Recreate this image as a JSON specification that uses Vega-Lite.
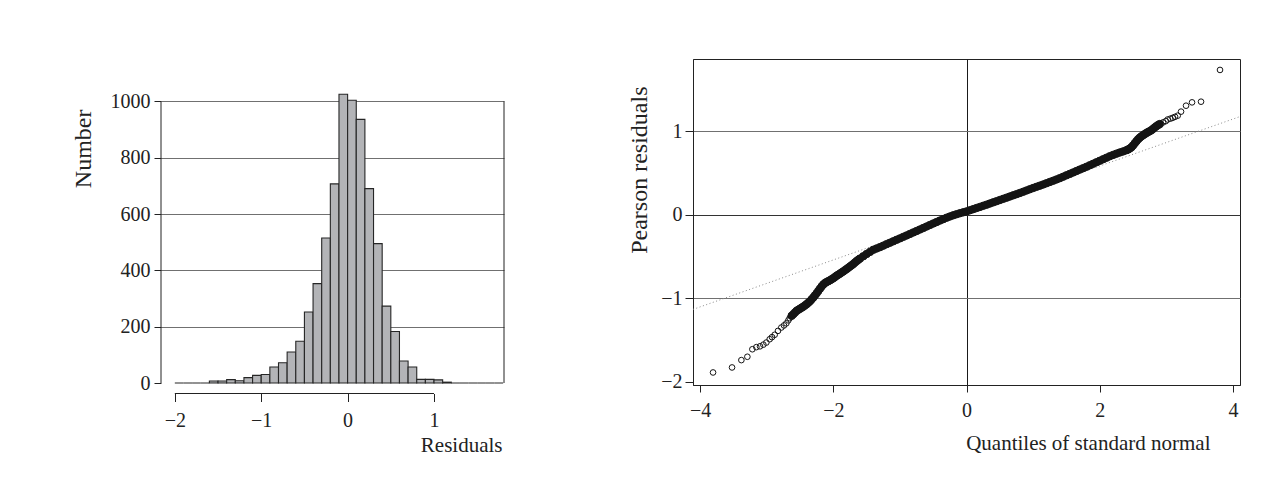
{
  "$schema": "https://vega.github.io/schema/vega-lite/v6.json",
  "padding": {"left": 71, "top": 58, "right": 5, "bottom": 5},
  "spacing": 122,
  "config": {
    "font": "Liberation Serif",
    "axis": {
      "labelFont": "Liberation Serif",
      "titleFont": "Liberation Serif",
      "labelFontSize": 20,
      "titleFontSize": 21,
      "titleFontWeight": "normal",
      "labelColor": "#222222",
      "titleColor": "#222222",
      "tickColor": "#222222",
      "domainColor": "#222222",
      "labelFlush": false,
      "labelOverlap": false,
      "format": "d"
    }
  },
  "hconcat": [
    {
      "width": 343,
      "height": 324,
      "view": {"stroke": null},
      "layer": [
        {
          "data": {"values": [
            {"start": -2.0, "end": -1.9, "count": 0},
            {"start": -1.9, "end": -1.8, "count": 0},
            {"start": -1.8, "end": -1.7, "count": 0},
            {"start": -1.7, "end": -1.6, "count": 0},
            {"start": -1.6, "end": -1.5, "count": 7},
            {"start": -1.5, "end": -1.4, "count": 7},
            {"start": -1.4, "end": -1.3, "count": 12},
            {"start": -1.3, "end": -1.2, "count": 8},
            {"start": -1.2, "end": -1.1, "count": 19},
            {"start": -1.1, "end": -1.0, "count": 27},
            {"start": -1.0, "end": -0.9, "count": 30},
            {"start": -0.9, "end": -0.8, "count": 57},
            {"start": -0.8, "end": -0.7, "count": 72},
            {"start": -0.7, "end": -0.6, "count": 110},
            {"start": -0.6, "end": -0.5, "count": 148},
            {"start": -0.5, "end": -0.4, "count": 252},
            {"start": -0.4, "end": -0.3, "count": 353},
            {"start": -0.3, "end": -0.2, "count": 515},
            {"start": -0.2, "end": -0.1, "count": 707},
            {"start": -0.1, "end": 0.0, "count": 1025},
            {"start": 0.0, "end": 0.1, "count": 1004},
            {"start": 0.1, "end": 0.2, "count": 936},
            {"start": 0.2, "end": 0.3, "count": 690},
            {"start": 0.3, "end": 0.4, "count": 495},
            {"start": 0.4, "end": 0.5, "count": 273},
            {"start": 0.5, "end": 0.6, "count": 183},
            {"start": 0.6, "end": 0.7, "count": 78},
            {"start": 0.7, "end": 0.8, "count": 57},
            {"start": 0.8, "end": 0.9, "count": 13},
            {"start": 0.9, "end": 1.0, "count": 13},
            {"start": 1.0, "end": 1.1, "count": 11},
            {"start": 1.1, "end": 1.2, "count": 3},
            {"start": 1.2, "end": 1.3, "count": 0},
            {"start": 1.3, "end": 1.4, "count": 0},
            {"start": 1.4, "end": 1.5, "count": 0},
            {"start": 1.5, "end": 1.6, "count": 0},
            {"start": 1.6, "end": 1.7, "count": 0},
            {"start": 1.7, "end": 1.8, "count": 0}
          ]},
          "mark": {"type": "bar", "fill": "#b3b4b7", "stroke": "#262626", "strokeWidth": 1.1},
          "encoding": {
            "x": {
              "field": "start",
              "type": "quantitative",
              "scale": {"domain": [-2.16, 1.81], "nice": false, "zero": false},
              "axis": {
                "values": [-2, -1, 0, 1],
                "format": "d",
                "domain": false,
                "grid": false,
                "offset": 10.5,
                "tickSize": 8,
                "labelPadding": 9,
                "title": "Residuals",
                "titleX": 341,
                "titleAlign": "right",
                "titlePadding": 4
              }
            },
            "x2": {"field": "end"},
            "y": {
              "field": "count",
              "type": "quantitative",
              "scale": {"domain": [0, 1150.4], "nice": false},
              "axis": {
                "values": [0, 200, 400, 600, 800, 1000],
                "format": "d",
                "domain": false,
                "tickSize": 7,
                "labelPadding": 4,
                "grid": true,
                "gridColor": {"condition": {"test": "datum.value === 0", "value": "transparent"}, "value": "#707070"},
                "title": "Number",
                "titleFontSize": 24,
                "titleAnchor": "end",
                "titleAlign": "right",
                "titleY": 50,
                "titlePadding": 15
              }
            },
            "y2": {"datum": 0}
          }
        },
        {
          "data": {"values": [{}]},
          "mark": {"type": "rule", "color": "#222222", "strokeWidth": 1},
          "encoding": {"x": {"datum": -2.16}, "y": {"datum": 0}, "y2": {"datum": 1000}}
        },
        {
          "data": {"values": [{}]},
          "mark": {"type": "rule", "color": "#222222", "strokeWidth": 1},
          "encoding": {"x": {"datum": 1.81}, "y": {"datum": 0}, "y2": {"datum": 1000}}
        },
        {
          "data": {"values": [{}]},
          "mark": {"type": "rule", "color": "#222222", "strokeWidth": 1},
          "encoding": {"x": {"datum": -2}, "x2": {"datum": 1}, "y": {"datum": -37.3}}
        }
      ]
    },
    {
      "width": 547,
      "height": 326,
      "view": {"stroke": "#222222"},
      "layer": [
        {
          "data": {"values": [{"q": -4.106, "r": -1.133}, {"q": 4.105, "r": 1.175}]},
          "mark": {"type": "line", "color": "#8a8a8a", "strokeWidth": 1, "strokeDash": [1, 2.5]},
          "encoding": {
            "x": {
              "field": "q",
              "type": "quantitative",
              "scale": {"domain": [-4.106, 4.105], "nice": false, "zero": false},
              "axis": {
                "values": [-4, -2, 0, 2, 4],
                "format": "d",
                "tickSize": 7,
                "labelPadding": 8,
                "grid": true,
                "gridColor": "#1a1a1a",
                "gridOpacity": {"condition": {"test": "datum.value === 0", "value": 1}, "value": 0},
                "title": "Quantiles of standard normal",
                "titleX": 517,
                "titleAlign": "right",
                "titlePadding": 12
              }
            },
            "y": {
              "field": "r",
              "type": "quantitative",
              "scale": {"domain": [-2.038, 1.864], "nice": false, "zero": false},
              "axis": {
                "values": [-2, -1, 0, 1],
                "format": "d",
                "tickSize": 8,
                "labelPadding": 3,
                "grid": true,
                "gridColor": {"condition": {"test": "datum.value === 0", "value": "#333333"}, "value": "#707070"},
                "gridOpacity": {"condition": {"test": "datum.value === -2", "value": 0}, "value": 1},
                "title": "Pearson residuals",
                "titleFontSize": 24,
                "titleAnchor": "end",
                "titleAlign": "right",
                "titleY": 27,
                "titlePadding": 9
              }
            }
          }
        },
        {
          "data": {"values": [
            {"q": -3.805, "r": -1.888}, {"q": -3.52, "r": -1.828}, {"q": -3.38, "r": -1.74}, {"q": -3.29, "r": -1.70},
            {"q": -3.215, "r": -1.61}, {"q": -3.155, "r": -1.585}, {"q": -3.1, "r": -1.575}, {"q": -3.05, "r": -1.555},
            {"q": -3.005, "r": -1.53}, {"q": -2.955, "r": -1.49}, {"q": -2.92, "r": -1.465}, {"q": -2.88, "r": -1.437},
            {"q": -2.83, "r": -1.39}, {"q": -2.78, "r": -1.35}, {"q": -2.74, "r": -1.325}, {"q": -2.705, "r": -1.30},
            {"q": -2.675, "r": -1.265}, {"q": -2.655, "r": -1.238},
            {"q": -2.625, "r": -1.21}, {"q": -2.6, "r": -1.19}, {"q": -2.575, "r": -1.17}, {"q": -2.55, "r": -1.15},
            {"q": -2.525, "r": -1.137}, {"q": -2.5, "r": -1.125}, {"q": -2.475, "r": -1.112}, {"q": -2.45, "r": -1.1},
            {"q": -2.425, "r": -1.085}, {"q": -2.4, "r": -1.07}, {"q": -2.375, "r": -1.053}, {"q": -2.35, "r": -1.035},
            {"q": -2.325, "r": -1.013}, {"q": -2.3, "r": -0.99}, {"q": -2.275, "r": -0.965}, {"q": -2.25, "r": -0.94},
            {"q": -2.225, "r": -0.912}, {"q": -2.2, "r": -0.885}, {"q": -2.175, "r": -0.858}, {"q": -2.15, "r": -0.835},
            {"q": -2.125, "r": -0.818}, {"q": -2.1, "r": -0.805}, {"q": -2.075, "r": -0.795}, {"q": -2.05, "r": -0.785},
            {"q": -2.025, "r": -0.772}, {"q": -2.0, "r": -0.76}, {"q": -1.975, "r": -0.745}, {"q": -1.95, "r": -0.73},
            {"q": -1.925, "r": -0.717}, {"q": -1.9, "r": -0.705}, {"q": -1.875, "r": -0.691}, {"q": -1.85, "r": -0.678},
            {"q": -1.825, "r": -0.664}, {"q": -1.8, "r": -0.65}, {"q": -1.775, "r": -0.635}, {"q": -1.75, "r": -0.62},
            {"q": -1.725, "r": -0.605}, {"q": -1.7, "r": -0.59}, {"q": -1.675, "r": -0.572}, {"q": -1.65, "r": -0.555},
            {"q": -1.625, "r": -0.54}, {"q": -1.6, "r": -0.525}, {"q": -1.55, "r": -0.497}, {"q": -1.5, "r": -0.47},
            {"q": -1.45, "r": -0.445}, {"q": -1.4, "r": -0.42}, {"q": -1.35, "r": -0.404}, {"q": -1.3, "r": -0.388},
            {"q": -1.25, "r": -0.37}, {"q": -1.2, "r": -0.352}, {"q": -1.15, "r": -0.335}, {"q": -1.1, "r": -0.318},
            {"q": -1.05, "r": -0.3}, {"q": -1.0, "r": -0.283}, {"q": -0.95, "r": -0.265}, {"q": -0.9, "r": -0.248},
            {"q": -0.85, "r": -0.23}, {"q": -0.8, "r": -0.212}, {"q": -0.75, "r": -0.195}, {"q": -0.7, "r": -0.177},
            {"q": -0.65, "r": -0.159}, {"q": -0.6, "r": -0.141}, {"q": -0.55, "r": -0.123}, {"q": -0.5, "r": -0.105},
            {"q": -0.45, "r": -0.088}, {"q": -0.4, "r": -0.07}, {"q": -0.35, "r": -0.053}, {"q": -0.3, "r": -0.036},
            {"q": -0.25, "r": -0.021}, {"q": -0.2, "r": -0.007}, {"q": -0.15, "r": 0.006}, {"q": -0.1, "r": 0.018},
            {"q": -0.05, "r": 0.029}, {"q": 0.0, "r": 0.04}, {"q": 0.05, "r": 0.053}, {"q": 0.1, "r": 0.067},
            {"q": 0.15, "r": 0.08}, {"q": 0.2, "r": 0.093}, {"q": 0.25, "r": 0.107}, {"q": 0.3, "r": 0.12},
            {"q": 0.35, "r": 0.134}, {"q": 0.4, "r": 0.148}, {"q": 0.45, "r": 0.162}, {"q": 0.5, "r": 0.176},
            {"q": 0.55, "r": 0.19}, {"q": 0.6, "r": 0.204}, {"q": 0.65, "r": 0.218}, {"q": 0.7, "r": 0.232},
            {"q": 0.75, "r": 0.246}, {"q": 0.8, "r": 0.26}, {"q": 0.85, "r": 0.275}, {"q": 0.9, "r": 0.29},
            {"q": 0.95, "r": 0.305}, {"q": 1.0, "r": 0.32}, {"q": 1.05, "r": 0.334}, {"q": 1.1, "r": 0.348},
            {"q": 1.15, "r": 0.362}, {"q": 1.2, "r": 0.377}, {"q": 1.25, "r": 0.392}, {"q": 1.3, "r": 0.407},
            {"q": 1.35, "r": 0.422}, {"q": 1.4, "r": 0.438}, {"q": 1.45, "r": 0.455}, {"q": 1.5, "r": 0.472},
            {"q": 1.55, "r": 0.489}, {"q": 1.6, "r": 0.506}, {"q": 1.65, "r": 0.523}, {"q": 1.7, "r": 0.54},
            {"q": 1.75, "r": 0.557}, {"q": 1.8, "r": 0.574}, {"q": 1.85, "r": 0.592}, {"q": 1.9, "r": 0.61},
            {"q": 1.95, "r": 0.628}, {"q": 2.0, "r": 0.646}, {"q": 2.05, "r": 0.664}, {"q": 2.1, "r": 0.682},
            {"q": 2.15, "r": 0.7}, {"q": 2.2, "r": 0.716}, {"q": 2.25, "r": 0.731}, {"q": 2.3, "r": 0.745},
            {"q": 2.35, "r": 0.758}, {"q": 2.4, "r": 0.772}, {"q": 2.425, "r": 0.781}, {"q": 2.45, "r": 0.793},
            {"q": 2.475, "r": 0.808}, {"q": 2.5, "r": 0.83}, {"q": 2.525, "r": 0.855}, {"q": 2.55, "r": 0.88},
            {"q": 2.575, "r": 0.903}, {"q": 2.6, "r": 0.922}, {"q": 2.625, "r": 0.938}, {"q": 2.65, "r": 0.952},
            {"q": 2.675, "r": 0.965}, {"q": 2.7, "r": 0.978}, {"q": 2.725, "r": 0.99}, {"q": 2.75, "r": 1.0},
            {"q": 2.775, "r": 1.012}, {"q": 2.8, "r": 1.028}, {"q": 2.825, "r": 1.045}, {"q": 2.85, "r": 1.06},
            {"q": 2.875, "r": 1.073}, {"q": 2.9, "r": 1.085},
            {"q": 2.95, "r": 1.105}, {"q": 2.99, "r": 1.12}, {"q": 3.02, "r": 1.14}, {"q": 3.06, "r": 1.15},
            {"q": 3.095, "r": 1.16}, {"q": 3.13, "r": 1.172}, {"q": 3.17, "r": 1.186}, {"q": 3.22, "r": 1.234},
            {"q": 3.295, "r": 1.305}, {"q": 3.385, "r": 1.345}, {"q": 3.52, "r": 1.353}, {"q": 3.805, "r": 1.733}
          ]},
          "mark": {"type": "point", "shape": "circle", "filled": false, "stroke": "#141414", "strokeWidth": 1, "opacity": 1},
          "encoding": {
            "x": {"field": "q", "type": "quantitative"},
            "y": {"field": "r", "type": "quantitative"},
            "fill": {"condition": {"test": "datum.q > -2.64 && datum.q < 2.92", "value": "#141414"}, "value": "transparent"},
            "size": {"condition": {"test": "datum.q > -2.64 && datum.q < 2.92", "value": 56}, "value": 32}
          }
        }
      ]
    }
  ]
}
